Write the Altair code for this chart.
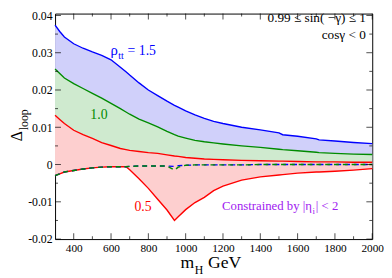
import altair as alt
import pandas as pd

# ---- data ----
mh = [300, 325, 350, 400, 450, 500, 550, 600, 650, 680, 700, 750, 800, 850, 900, 940, 960,
      1000, 1050, 1100, 1150, 1200, 1300, 1400, 1500, 1520, 1600, 1700, 1715, 1800, 1900, 2000]

blue_up = [0.0374, 0.0357, 0.0342, 0.0324, 0.0312, 0.0302, 0.0293, 0.0281, 0.0261, 0.0249, 0.0240,
           0.0219, 0.0200, 0.0185, 0.0170, 0.0159, 0.0154, 0.0144, 0.0133, 0.0124, 0.0116, 0.0110,
           0.0100, 0.0093, 0.0085, 0.0080, 0.0076, 0.0069, 0.0066, 0.0063, 0.0059, 0.0056]
green_up = [0.0256, 0.0244, 0.0232, 0.0217, 0.0204, 0.0191, 0.0178, 0.0164, 0.0150, 0.0141, 0.0135,
            0.0122, 0.0112, 0.0101, 0.0089, 0.0080, 0.0076, 0.0071, 0.0065, 0.0061, 0.0058, 0.0055,
            0.0050, 0.0046, 0.0041, 0.0040, 0.0037, 0.0033, 0.0032, 0.0030, 0.0028, 0.0027]
red_up = [0.0132, 0.0121, 0.0110, 0.0092, 0.0080, 0.0070, 0.0059, 0.0051, 0.0043, 0.0040, 0.0038,
          0.0035, 0.0032, 0.0030, 0.0026, 0.0023, 0.0022, 0.0019, 0.0017, 0.0015, 0.0014, 0.0013,
          0.0011, 0.0010, 0.0009, 0.0009, 0.0008, 0.0007, 0.0007, 0.0007, 0.0006, 0.0006]

blue_lo = [-0.0030, -0.0025, -0.0020, -0.0016, -0.0012, -0.0009, -0.0007, -0.0006, -0.0006, -0.0006,
           -0.0005, -0.0004, -0.0004, -0.0004, -0.0004, -0.0005, -0.0003, -0.0002, -0.0001, -0.0001,
           -0.0001, -0.0001, -0.0001, 0.0, 0.0, 0.0, 0.0, 0.0, 0.0, 0.0, 0.0, 0.0]
green_lo = [-0.0030, -0.0025, -0.0020, -0.0016, -0.0012, -0.0009, -0.0007, -0.0006, -0.0006, -0.0006,
            -0.0005, -0.0004, -0.0004, -0.0004, -0.0004, -0.0015, -0.0007, -0.0002, -0.0001, -0.0001,
            -0.0001, -0.0001, -0.0001, 0.0, 0.0, 0.0, 0.0, 0.0, 0.0, 0.0, 0.0, 0.0]
red_lo = [-0.0030, -0.0025, -0.0020, -0.0016, -0.0012, -0.0009, -0.0007, -0.0006, -0.0006, -0.0006,
          -0.0014, -0.0038, -0.0064, -0.0093, -0.0122, -0.0150, -0.0140, -0.0121, -0.0102, -0.0088,
          -0.0070, -0.0058, -0.0042, -0.0033, -0.0028, -0.0027, -0.0023, -0.0020, -0.0020, -0.0018,
          -0.0015, -0.0011]

x_major = [400, 600, 800, 1000, 1200, 1400, 1600, 1800, 2000]
x_minor = [500, 700, 900, 1100, 1300, 1500, 1700, 1900]
y_major = [-0.02, -0.01, 0.0, 0.01, 0.02, 0.03, 0.04]
y_minor = [-0.015, -0.005, 0.005, 0.015, 0.025, 0.035]

# ---- styling ----
W, H = 323.5, 230
SERIF = "Liberation Serif"
BLUE, GREEN, RED, PURPLE = "#0000ff", "#008b00", "#ff0000", "#a020f0"

df = pd.DataFrame({"mh": mh, "b_up": blue_up, "b_lo": blue_lo, "g_up": green_up,
                   "g_lo": green_lo, "r_up": red_up, "r_lo": red_lo})

xs = alt.Scale(domain=[300, 2000], nice=False, zero=False)
ys = alt.Scale(domain=[-0.02, 0.0405], nice=False, zero=False)

x_axis = alt.Axis(values=x_major, ticks=False, domain=False, grid=False, title=None,
                  labelFont=SERIF, labelFontSize=11.5, labelColor="black", labelPadding=4,
                  labelFlush=False, labelOverlap=False, format="d")
y_axis = alt.Axis(values=y_major, ticks=False, domain=False, grid=False, title=None,
                  labelFont=SERIF, labelFontSize=12, labelColor="black", labelPadding=3,
                  labelOverlap=False,
                  labelExpr="datum.value == 0 ? '0' : replace(format(datum.value, '.2f'), '\u2212', '-')")

base = alt.Chart(df)


def XE(field="mh:Q"):
    return alt.X(field, scale=xs, axis=x_axis)


def YE(field):
    return alt.Y(field, scale=ys, axis=y_axis)


def area(up, lo, color):
    return base.mark_area(color=color, opacity=1, interpolate="linear").encode(
        x=XE(), y=YE(f"{up}:Q"), y2=alt.Y2(f"{lo}:Q"))


def line(col, color, dash=None):
    kw = {"color": color, "strokeWidth": 1.4}
    if dash:
        kw["strokeDash"] = dash
    return base.mark_line(**kw).encode(x=XE(), y=YE(f"{col}:Q"))


layers = [
    area("b_up", "b_lo", "#d0d0fa"),
    area("g_up", "g_lo", "#cfeacf"),
    area("r_up", "r_lo", "#fdcfcf"),
    line("b_up", BLUE),
    line("g_up", GREEN),
    line("r_up", RED),
    line("r_lo", RED),
    line("b_lo", BLUE, [5, 4]),
    line("g_lo", GREEN, [5, 4]),
]


# inward ticks on all four sides (tick marks centred half their length inside the frame)
def yticks(vals, length):
    d = alt.Chart(pd.DataFrame({"v": vals}))
    left = d.mark_tick(color="black", thickness=1, size=length, orient="horizontal").encode(
        y=YE("v:Q"), x=alt.value(length / 2))
    right = d.mark_tick(color="black", thickness=1, size=length, orient="horizontal").encode(
        y=YE("v:Q"), x=alt.value(W - length / 2))
    return [left, right]


def xticks(vals, length):
    d = alt.Chart(pd.DataFrame({"v": vals}))
    bottom = d.mark_tick(color="black", thickness=1, size=length, orient="vertical").encode(
        x=XE("v:Q"), y=alt.value(H - length / 2))
    top = d.mark_tick(color="black", thickness=1, size=length, orient="vertical").encode(
        x=XE("v:Q"), y=alt.value(length / 2))
    return [bottom, top]


layers += yticks(y_major, 6) + yticks(y_minor, 3) + xticks(x_major, 6) + xticks(x_minor, 3)


def txt(s, x, y, size, color="black", align="left", angle=0, font=SERIF):
    return alt.Chart(pd.DataFrame({"t": [s]})).mark_text(
        align=align, baseline="alphabetic", fontSize=size, font=font, color=color, angle=angle
    ).encode(x=alt.value(x), y=alt.value(y), text="t:N")


annotations = [
    txt("\u03c1", 64, 42.5, 15, BLUE, align="right"),
    txt("tt", 64.5, 46.5, 10, BLUE),
    txt("= 1.5", 74, 42.5, 14, BLUE),
    txt("1.0", 36, 108, 14, GREEN),
    txt("0.5", 81, 201, 14, RED),
    txt("0.99 \u2264 sin( \u2212\u03b3) \u2264 1", 317, 9, 13.5, align="right"),
    txt("cos\u03b3 < 0", 317, 26, 13.5, align="right"),
    txt("Constrained by |\u03b7", 262, 200, 13, PURPLE, align="right"),
    txt("i", 262.5, 204, 9, PURPLE),
    txt("| < 2", 266, 200, 13, PURPLE),
    txt("m", 142, 259.5, 18, align="right"),
    txt("H", 142.5, 265.5, 12),
    txt("GeV", 156, 259.5, 18),
    txt("\u0394", -34, 120, 16, align="right", angle=270),
    txt("loop", -27.5, 119, 12, angle=270),
]

chart = alt.layer(*layers, *annotations).properties(
    width=W, height=H,
    padding={"left": 48, "top": 3, "right": 12, "bottom": 37},
    autosize=alt.AutoSizeParams(type="none"),
).configure_view(stroke="black", strokeWidth=1)

chart.save("out.html", embed_options={"renderer": "svg", "actions": False})
